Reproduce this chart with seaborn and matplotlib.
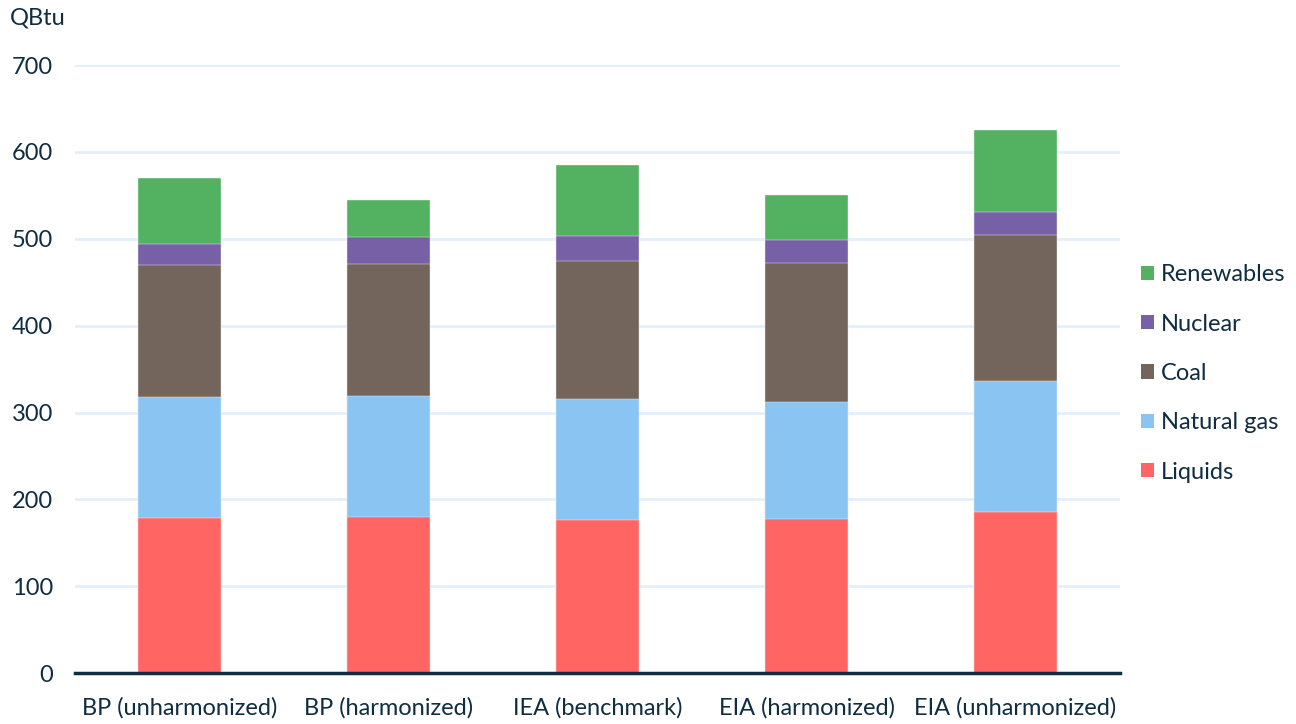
import numpy as np
import pandas as pd
import seaborn as sns
import matplotlib.pyplot as plt
from matplotlib.patches import Patch

# values (QBtu)
scenarios = ["BP (unharmonized)", "BP (harmonized)", "IEA (benchmark)",
             "EIA (harmonized)", "EIA (unharmonized)"]
liquids = [178, 180, 176, 177, 186]
natural_gas = [140, 139, 139, 135, 150]
coal = [152, 152, 159, 160, 168]
nuclear = [24, 31, 29, 27, 27]
renewables = [76, 43, 82, 52, 94]

fuels = ["Liquids", "Natural gas", "Coal", "Nuclear", "Renewables"]
colors = {"Liquids": "#ff6663", "Natural gas": "#8ac4f3", "Coal": "#73655c",
          "Nuclear": "#7760a6", "Renewables": "#52b262"}
text_color = "#0f2d40"
fs = 17

sns.set_theme(style="white")
plt.rcParams["font.family"] = ["Lato", "DejaVu Sans"]

df = pd.DataFrame({"scenario": scenarios, "Liquids": liquids,
                   "Natural gas": natural_gas, "Coal": coal,
                   "Nuclear": nuclear, "Renewables": renewables})
cum = df[fuels].cumsum(axis=1)
cum["scenario"] = df["scenario"]

fig = plt.figure(figsize=(12.96, 7.24), dpi=100)
ax = fig.add_axes([0.0579, 0.0704, 0.8063, 0.8396])

# stacked bars: draw cumulative totals from the top segment down
for fuel in reversed(fuels):
    sns.barplot(data=cum, x="scenario", y=fuel, color=colors[fuel],
                saturation=1, width=0.4, ax=ax, zorder=3,
                edgecolor="#f4f4f4", linewidth=0.3)

ax.set_xlim(-0.5, 4.5)
ax.set_ylim(0, 700)
ax.set_yticks(np.arange(0, 701, 100))
ax.yaxis.grid(True, color="#e3f0fb", linewidth=2, zorder=0)
ax.set_axisbelow(True)
for s in ["top", "right", "left"]:
    ax.spines[s].set_visible(False)
ax.spines["bottom"].set_color(text_color)
ax.spines["bottom"].set_linewidth(2.5)
ax.spines["bottom"].set_zorder(5)
ax.set_xlabel("")
ax.set_ylabel("")
ax.tick_params(axis="both", length=0, labelsize=fs, colors=text_color)
ax.tick_params(axis="x", pad=17)
ax.tick_params(axis="y", pad=16)

fig.text(0.0077, 0.989, "QBtu", fontsize=fs, color=text_color,
         va="top", ha="left")

handles = [Patch(facecolor=colors[f], edgecolor="none") for f in reversed(fuels)]
leg = ax.legend(handles, list(reversed(fuels)), loc="center left",
                bbox_to_anchor=(1.0, 0.493), frameon=False, fontsize=fs,
                handlelength=0.55, handleheight=0.55, handletextpad=0.3,
                labelspacing=1.2, labelcolor=text_color)

fig.savefig("out.png", dpi=100)
